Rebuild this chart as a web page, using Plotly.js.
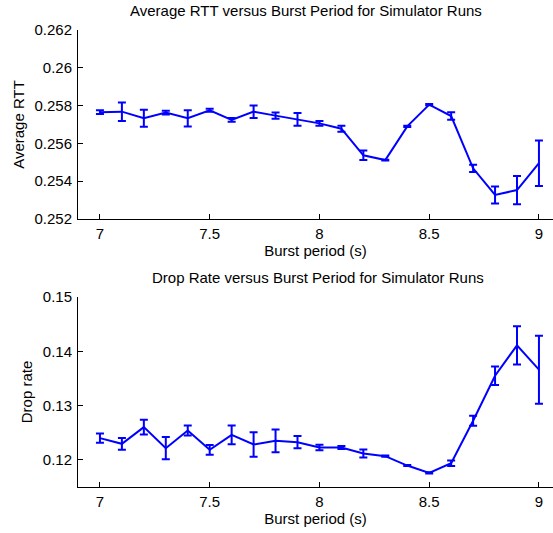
<!DOCTYPE html>
<html>
<head>
<meta charset="utf-8">
<script src="https://cdn.plot.ly/plotly-3.0.1.min.js"></script>
<style>html,body{margin:0;padding:0;overflow:hidden;background:#fff;}</style>
</head>
<body>
<div id="chart" style="width:553px;height:533px;"></div>
<script>
const burstPeriod = [7.0, 7.1, 7.2, 7.3, 7.4, 7.5, 7.6, 7.7, 7.8, 7.9, 8.0, 8.1, 8.2, 8.3, 8.4, 8.5, 8.6, 8.7, 8.8, 8.9, 9.0];
const avgRtt = [0.25765, 0.25768, 0.25733, 0.25763, 0.25733, 0.25775, 0.25724, 0.25768, 0.25747, 0.25727, 0.25706, 0.25678, 0.25537, 0.25512, 0.25690, 0.25805, 0.25745, 0.25468, 0.25327, 0.25353, 0.25495];
const avgRttErr = [0.00010, 0.00049, 0.00045, 0.00010, 0.00043, 0.00008, 0.00010, 0.00033, 0.00017, 0.00034, 0.00013, 0.00016, 0.00025, 0.00002, 0.00003, 0.00003, 0.00020, 0.00019, 0.00045, 0.00075, 0.00120];
const dropRate = [0.12400, 0.12295, 0.12603, 0.12215, 0.12541, 0.12185, 0.12461, 0.12283, 0.12351, 0.12326, 0.12228, 0.12228, 0.12117, 0.12068, 0.11895, 0.11760, 0.11938, 0.12720, 0.13550, 0.14109, 0.13661];
const dropRateErr = [0.00086, 0.00108, 0.00135, 0.00206, 0.00092, 0.00089, 0.00172, 0.00225, 0.00209, 0.00114, 0.00050, 0.00028, 0.00074, 0.00010, 0.00010, 0.00010, 0.00050, 0.00092, 0.00170, 0.00354, 0.00627];
const xTicks = [7, 7.5, 8, 8.5, 9];
const xTickLabels = ['7', '7.5', '8', '8.5', '9'];
const y1Ticks = [0.252, 0.254, 0.256, 0.258, 0.26, 0.262];
const y1TickLabels = ['0.252', '0.254', '0.256', '0.258', '0.26', '0.262'];
const y2Ticks = [0.12, 0.13, 0.14, 0.15];
const y2TickLabels = ['0.12', '0.13', '0.14', '0.15'];

const blue = 'rgb(0,0,255)';
const font = {family: 'Liberation Sans, Arial, sans-serif', size: 15, color: '#000'};

const traces = [
  {x: burstPeriod, y: avgRtt, type: 'scatter', mode: 'lines', line: {color: blue, width: 2},
   error_y: {type: 'data', array: avgRttErr, visible: true, color: blue, thickness: 2, width: 4},
   xaxis: 'x', yaxis: 'y', hoverinfo: 'skip'},
  {x: burstPeriod, y: dropRate, type: 'scatter', mode: 'lines', line: {color: blue, width: 2},
   error_y: {type: 'data', array: dropRateErr, visible: true, color: blue, thickness: 2, width: 4},
   xaxis: 'x2', yaxis: 'y2', hoverinfo: 'skip'}
];

function xax(anchor) {
  return {anchor: anchor, domain: [78/553, 1], range: [6.9, 9.064], tickvals: xTicks, ticktext: xTickLabels,
    ticks: 'inside', ticklen: 5, tickcolor: '#000', showline: true, linecolor: '#000', linewidth: 1,
    showgrid: false, zeroline: false, tickfont: font, ticklabelstandoff: 1,
    title: {text: 'Burst period (s)', font: font, standoff: 2}};
}
function yax(anchor, domain, range, tv, tt, title) {
  return {anchor: anchor, domain: domain, range: range, tickvals: tv, ticktext: tt,
    ticks: 'inside', ticklen: 5, tickcolor: '#000', showline: true, linecolor: '#000', linewidth: 1,
    showgrid: false, zeroline: false, tickfont: font, ticklabelstandoff: 2,
    title: {text: title, font: font, standoff: 6}};
}

const layout = {
  width: 553, height: 533,
  margin: {l: 0, r: 0, t: 0, b: 0},
  paper_bgcolor: '#fff', plot_bgcolor: '#fff',
  showlegend: false,
  xaxis: xax('y'),
  yaxis: yax('x', [(533-219)/533, (533-30)/533], [0.252, 0.262], y1Ticks, y1TickLabels, 'Average RTT'),
  xaxis2: xax('y2'),
  yaxis2: yax('x2', [(533-487)/533, (533-297)/533], [0.115, 0.15], y2Ticks, y2TickLabels, 'Drop rate'),
  annotations: [
    {text: 'Average RTT versus Burst Period for Simulator Runs', xref: 'paper', yref: 'paper',
     x: 306/553, y: 1 - 10.5/533, xanchor: 'center', yanchor: 'middle', showarrow: false, font: font},
    {text: 'Drop Rate versus Burst Period for Simulator Runs', xref: 'paper', yref: 'paper',
     x: 318/553, y: 1 - 277/533, xanchor: 'center', yanchor: 'middle', showarrow: false, font: font}
  ]
};

Plotly.newPlot('chart', traces, layout, {staticPlot: true, displayModeBar: false});
</script>
</body>
</html>
